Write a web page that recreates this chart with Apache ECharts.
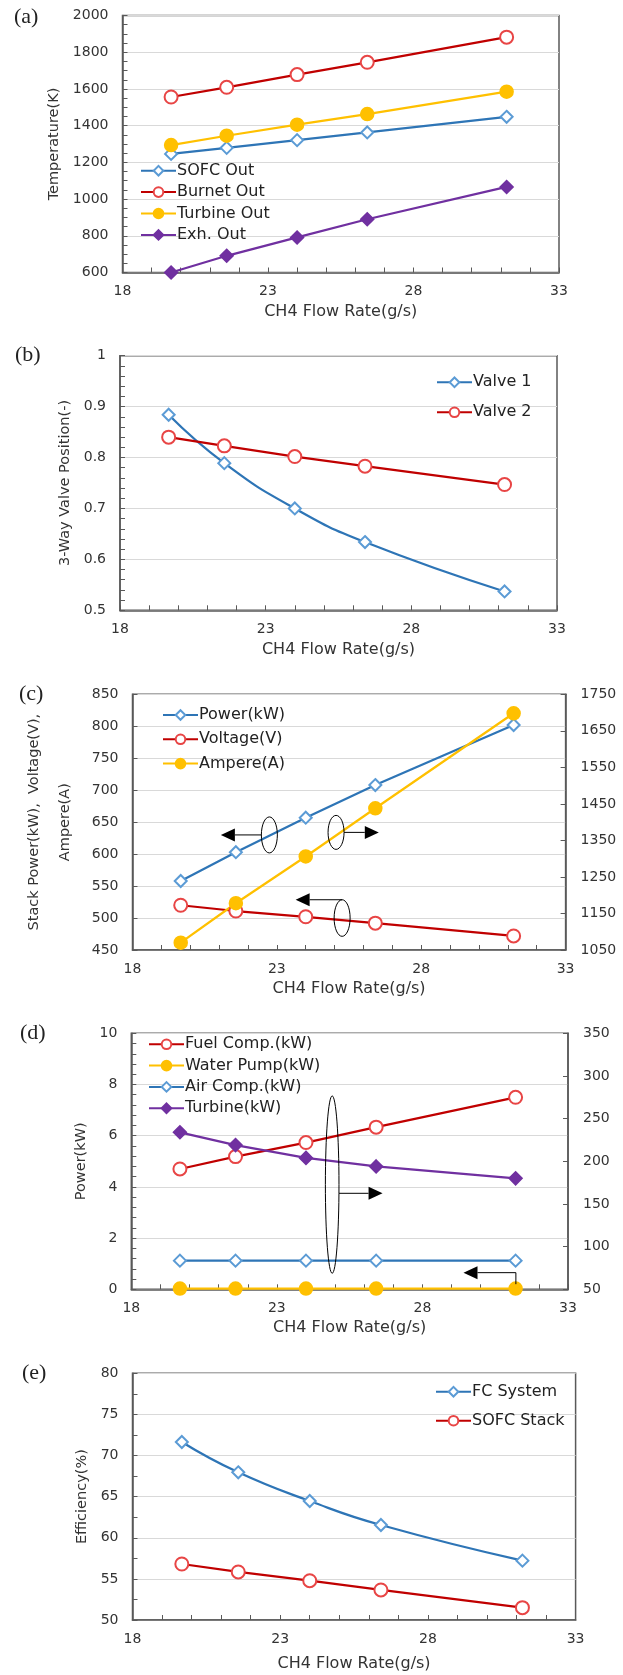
<!DOCTYPE html>
<html><head><meta charset="utf-8">
<script src="https://cdn.jsdelivr.net/npm/echarts@6/dist/echarts.min.js"></script>
<style>html,body{margin:0;padding:0;background:#fff}#c{width:623px;height:1675px}</style>
</head><body><div id="c"></div>
<script>
// ---- data ----
const flowRate = [19.67, 21.58, 24.0, 26.41, 31.2];          // CH4 flow rate (g/s)
const xRange = [18, 33, 5];
// (a) temperatures (K)
const sofcOut    = [1246, 1279, 1321, 1363, 1448];
const burnetOut  = [1556, 1609, 1678, 1745, 1882];
const turbineOut = [1294, 1345, 1405, 1463, 1585];
const exhOut     = [600, 691, 791, 890, 1066];
const tempRange  = [600, 2000, 200];
// (b) 3-way valve position (-)
const valve1 = [0.884, 0.789, 0.700, 0.634, 0.537];
const valve2 = [0.840, 0.823, 0.802, 0.783, 0.747];
const valveRange = [0.5, 1, 0.1];
// (c) stack power / voltage (left), ampere (right)
const stackPower   = [558, 603, 657, 708, 802];
const stackVoltage = [520, 511, 502, 492, 472];
const stackAmpere  = [1070, 1178, 1306, 1438, 1698];
const stackLeftRange  = [450, 850, 50];
const stackRightRange = [1050, 1750, 100];
// (d) BOP power: water pump (left), others (right)
const fuelComp   = [191, 205.5, 222, 240, 275];
const waterPump  = [0.03, 0.03, 0.03, 0.03, 0.03];
const airComp    = [83.6, 83.6, 83.6, 83.6, 83.6];
const turbinePow = [234, 219, 204, 194, 180];
const bopLeftRange  = [0, 10, 2];
const bopRightRange = [50, 350, 50];
// (e) efficiency (%)
const fcSystem  = [71.65, 67.96, 64.47, 61.55, 57.22];
const sofcStack = [56.81, 55.84, 54.78, 53.65, 51.5];
const effRange  = [50, 80, 5];

const FONT = 'DejaVu Sans';
const TXT = '#333333';
const AX = '#595959';

const chart = echarts.init(document.getElementById('c'), null, {renderer: 'canvas'});

function pairs(ys) { return flowRate.map((x, i) => [x, ys[i]]); }
function fmt(v) { return String(+(+v).toFixed(3)); }

const grids = [
  {left: 122.5, top: 15.5,   width: 436.5, height: 257},
  {left: 120,   top: 355.7,  width: 437,   height: 254.6},
  {left: 132.5, top: 694.3,  width: 433.1, height: 255.7},
  {left: 131.3, top: 1033.3, width: 436.7, height: 256},
  {left: 132.5, top: 1373.3, width: 443.1, height: 246.7}
].map(g => Object.assign(g, {show: true, borderColor: AX, borderWidth: 1.5, backgroundColor: 'transparent', containLabel: false, outerBoundsMode: 'none'}));

function xAxisCfg(gi, nameGap) {
  return {
    type: 'value', gridIndex: gi, min: xRange[0], max: xRange[1], interval: xRange[2],
    name: 'CH4 Flow Rate(g/s)', nameLocation: 'middle', nameGap: nameGap,
    nameTextStyle: {fontFamily: FONT, fontSize: 16, color: TXT},
    axisLine: {show: true, onZero: false, lineStyle: {color: AX, width: 1.5}},
    axisTick: {show: true, inside: true, length: 5, lineStyle: {color: AX}},
    minorTick: {show: true, splitNumber: 5, length: 5, lineStyle: {color: AX}},
    axisLabel: {fontFamily: FONT, fontSize: 14, color: TXT, margin: 12, formatter: fmt},
    splitLine: {show: false}
  };
}
function yLeft(gi, r, name, nameGap, minorSplit, extraName) {
  return {
    type: 'value', gridIndex: gi, position: 'left', min: r[0], max: r[1], interval: r[2],
    name: name, nameLocation: 'middle', nameGap: nameGap,
    nameTextStyle: Object.assign({fontFamily: FONT, fontSize: 14.5, color: TXT}, extraName || {}),
    axisLine: {show: true, onZero: false, lineStyle: {color: AX, width: 1.5}},
    axisTick: {show: true, inside: true, length: 5, lineStyle: {color: AX}},
    minorTick: {show: minorSplit > 0, splitNumber: minorSplit || 5, length: 5, lineStyle: {color: AX}},
    axisLabel: {fontFamily: FONT, fontSize: 14, color: TXT, margin: 14, formatter: fmt},
    splitLine: {show: true, lineStyle: {color: '#d9d9d9', width: 1}}
  };
}
function yRight(gi, r) {
  return {
    type: 'value', gridIndex: gi, position: 'right', min: r[0], max: r[1], interval: r[2],
    axisLine: {show: true, onZero: false, lineStyle: {color: AX, width: 1.5}},
    axisTick: {show: true, inside: true, length: 5, lineStyle: {color: AX}},
    axisLabel: {fontFamily: FONT, fontSize: 14, color: TXT, margin: 15, formatter: fmt},
    splitLine: {show: false}
  };
}

const ST = {
  blue:   {symbol: 'emptyDiamond', symbolSize: 12, line: '#2e75b6', mark: '#5b9bd5'},
  red:    {symbol: 'emptyCircle',  symbolSize: 13, line: '#c00000', mark: '#e84545'},
  yellow: {symbol: 'circle',       symbolSize: 13, line: '#ffc000', mark: '#ffc000'},
  purple: {symbol: 'diamond',      symbolSize: 13, line: '#7030a0', mark: '#7030a0'}
};
function ser(name, xi, yi, ys, st, smooth) {
  return {
    type: 'line', name: name, xAxisIndex: xi, yAxisIndex: yi, data: pairs(ys),
    symbol: st.symbol, symbolSize: st.symbolSize, showSymbol: true,
    smooth: smooth ? 0.5 : false,
    lineStyle: {color: st.line, width: 2.25},
    itemStyle: {color: st.mark, borderColor: st.mark, borderWidth: 1.5},
    emphasis: {disabled: true}, animation: false
  };
}
function legendCfg(names, left, top, gap) {
  return {
    data: names, orient: 'vertical', left: left, top: top, padding: 0,
    itemGap: gap, itemWidth: 35, itemHeight: 12, selectedMode: false,
    textStyle: {fontFamily: FONT, fontSize: 16, color: '#222', lineHeight: 20, padding: [0, 0, 0, -4]}
  };
}

const option = {
  animation: false,
  backgroundColor: '#fff',
  textStyle: {fontFamily: FONT},
  grid: grids,
  xAxis: [xAxisCfg(0, 31), xAxisCfg(1, 31.5), xAxisCfg(2, 31), xAxisCfg(3, 31), xAxisCfg(4, 36)],
  yAxis: [
    yLeft(0, tempRange, 'Temperature(K)', 58, 4),
    yLeft(1, valveRange, '3-Way Valve Position(-)', 45, 5),
    yLeft(2, stackLeftRange, 'Stack Power(kW),  Voltage(V),\nAmpere(A)', 27, 0, {lineHeight: 31}),
    yRight(2, stackRightRange),
    yLeft(3, bopLeftRange, 'Power(kW)', 41, 5),
    yRight(3, bopRightRange),
    yLeft(4, effRange, 'Efficiency(%)', 41.5, 2)
  ],
  legend: [
    legendCfg(['SOFC Out', 'Burnet Out', 'Turbine Out', 'Exh. Out'], 140, 160.7, 1.4),
    legendCfg(['Valve 1', 'Valve 2'], 436, 372.3, 10),
    legendCfg(['Power(kW)', 'Voltage(V)', 'Ampere(A)'], 162, 705, 4.3),
    legendCfg(['Fuel Comp.(kW)', 'Water Pump(kW)', 'Air Comp.(kW)', 'Turbine(kW)'], 148, 1034.3, 1.3),
    legendCfg(['FC System', 'SOFC Stack'], 435, 1381.7, 9)
  ],
  series: [
    ser('SOFC Out', 0, 0, sofcOut, ST.blue),
    ser('Burnet Out', 0, 0, burnetOut, ST.red),
    ser('Turbine Out', 0, 0, turbineOut, ST.yellow),
    ser('Exh. Out', 0, 0, exhOut, ST.purple),
    ser('Valve 1', 1, 1, valve1, ST.blue, true),
    ser('Valve 2', 1, 1, valve2, ST.red),
    ser('Power(kW)', 2, 2, stackPower, ST.blue),
    ser('Voltage(V)', 2, 2, stackVoltage, ST.red),
    ser('Ampere(A)', 2, 3, stackAmpere, ST.yellow),
    ser('Fuel Comp.(kW)', 3, 5, fuelComp, ST.red),
    ser('Water Pump(kW)', 3, 4, waterPump, ST.yellow),
    ser('Air Comp.(kW)', 3, 5, airComp, ST.blue),
    ser('Turbine(kW)', 3, 5, turbinePow, ST.purple),
    ser('FC System', 4, 6, fcSystem, ST.blue, true),
    ser('SOFC Stack', 4, 6, sofcStack, ST.red)
  ]
};
chart.setOption(option);

// ---- annotations (anchored in data coordinates) ----
function P(xi, yi, pt) { return chart.convertToPixel({xAxisIndex: xi, yAxisIndex: yi}, pt); }
const G = [];
function ell(c, rx, ry) {
  G.push({type: 'ellipse', z: 100, shape: {cx: c[0], cy: c[1], rx: rx, ry: ry}, style: {fill: 'transparent', stroke: '#000', lineWidth: 1}});
}
function seg(a, b) {
  G.push({type: 'line', z: 100, shape: {x1: a[0], y1: a[1], x2: b[0], y2: b[1]}, style: {stroke: '#000', lineWidth: 1}});
}
function arrowTo(from, tipX) {   // horizontal arrow from 'from' to tipX
  const dir = tipX < from[0] ? -1 : 1, L = 14, H = 6.5, y = from[1];
  const base = tipX - dir * L;
  seg(from, [base, y]);
  G.push({type: 'polygon', z: 100, shape: {points: [[tipX, y], [base, y - H], [base, y + H]]}, style: {fill: '#000'}});
}
// panel (c)
const c1 = P(2, 2, [22.74, 630]); ell(c1, 8, 18); arrowTo([c1[0] - 8, c1[1]], P(2, 2, [21.06, 630])[0]);
const c2 = P(2, 2, [25.05, 634]); ell(c2, 8, 17); arrowTo([c2[0] + 8, c2[1]], P(2, 2, [26.53, 634])[0]);
const c3 = P(2, 2, [25.26, 500]); ell(c3, 8, 18.3); arrowTo([c3[0], c3[1] - 18.3], P(2, 2, [23.65, 500])[0]);
// panel (d)
const d1 = P(3, 4, [24.9, 4.09]); ell(d1, 6.8, 88.7);
const d1y = P(3, 4, [24.9, 3.75])[1]; arrowTo([d1[0] + 6.8, d1y], P(3, 4, [26.63, 3.75])[0]);
const d2a = P(3, 4, [31.21, 0.2]), d2b = P(3, 4, [31.21, 0.65]);
seg(d2a, d2b); arrowTo(d2b, P(3, 4, [29.41, 0.65])[0]);
// panel letters
[['(a)', 14, 17], ['(b)', 15, 355], ['(c)', 19, 694], ['(d)', 20, 1033], ['(e)', 22, 1373]].forEach(t => {
  G.push({type: 'text', z: 100, x: t[1], y: t[2], style: {text: t[0], fontFamily: 'Liberation Serif', fontSize: 22, fill: '#222', verticalAlign: 'middle', align: 'left'}});
});
chart.setOption({graphic: G});
</script>
</body></html>
